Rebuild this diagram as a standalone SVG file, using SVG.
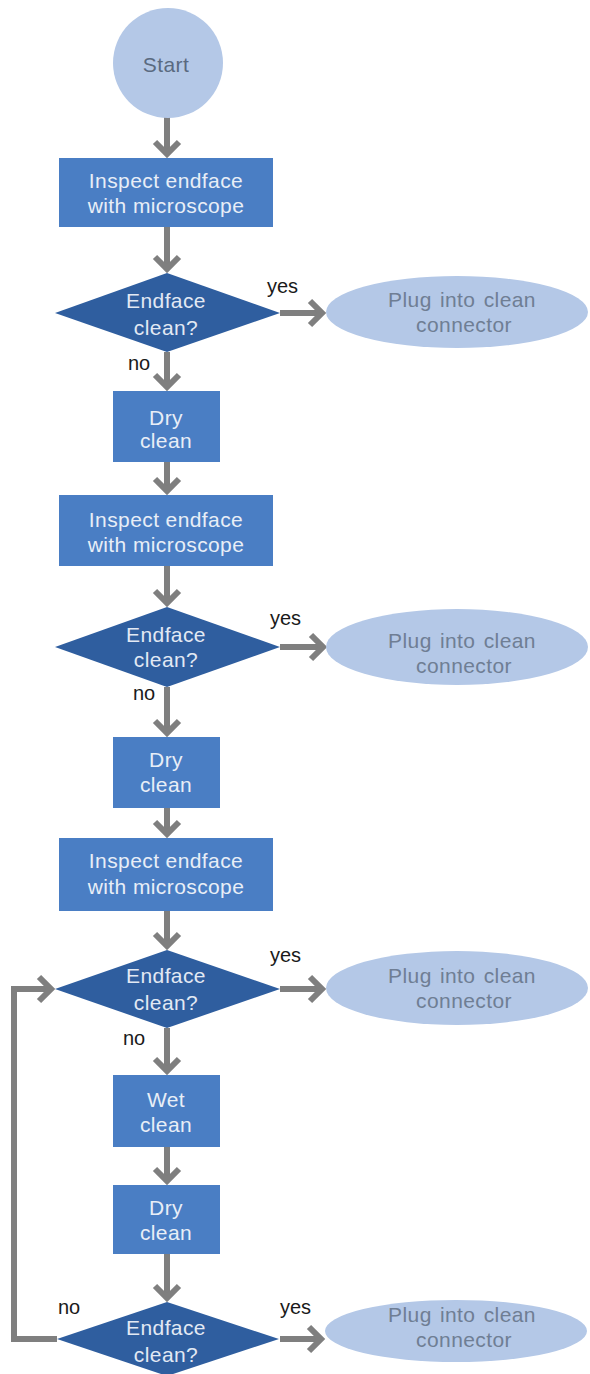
<svg xmlns="http://www.w3.org/2000/svg" width="590" height="1374" viewBox="0 0 590 1374">
  <style>
    text { font-family: "Liberation Sans", Arial, sans-serif; font-size: 21px; text-anchor: middle; letter-spacing: 0.4px; }
    .box { fill: #4a7ec4; }
    .box-t { fill: #e8eef7; }
    .dec { fill: #2f5e9f; }
    .dec-t { fill: #e2e9f4; }
    .term { fill: #b4c8e7; }
    .term-t { fill: #5a6a80; }
    .end-t { fill: #6f7e94; word-spacing: 2px; }
    .lbl { fill: #1a1a1a; font-size: 20px; text-anchor: start; letter-spacing: 0; }
    .conn { stroke: #7f7f7f; stroke-width: 6; fill: none; marker-end: url(#chev); stroke-linejoin: miter; }
  </style>
  <defs>
    <marker id="chev" markerUnits="userSpaceOnUse" markerWidth="34" markerHeight="34" viewBox="0 0 34 34" refX="22" refY="17" orient="auto" overflow="visible">
      <path d="M12,5 L24,17 L12,29" fill="none" stroke="#7f7f7f" stroke-width="6"/>
    </marker>
  </defs>

  <rect width="590" height="1374" fill="#ffffff"/>

  <!-- connectors -->
  <g id="connectors">
    <line class="conn" x1="167" y1="117" x2="167" y2="152"/>
    <line class="conn" x1="167" y1="227" x2="167" y2="267"/>
    <line class="conn" x1="280" y1="313" x2="320" y2="313"/>
    <line class="conn" x1="167" y1="352" x2="167" y2="385"/>
    <line class="conn" x1="167" y1="462" x2="167" y2="489"/>
    <line class="conn" x1="167" y1="566" x2="167" y2="601"/>
    <line class="conn" x1="280" y1="647" x2="321" y2="647"/>
    <line class="conn" x1="167" y1="687" x2="167" y2="731"/>
    <line class="conn" x1="167" y1="808" x2="167" y2="832"/>
    <line class="conn" x1="167" y1="911" x2="167" y2="944"/>
    <line class="conn" x1="280" y1="989" x2="320" y2="989"/>
    <line class="conn" x1="167" y1="1028" x2="167" y2="1069"/>
    <line class="conn" x1="167" y1="1147" x2="167" y2="1179"/>
    <line class="conn" x1="167" y1="1254" x2="167" y2="1296"/>
    <line class="conn" x1="280" y1="1339" x2="319" y2="1339"/>
    <path class="conn" d="M57,1339 H14 V989 H49"/>
  </g>

  <!-- edge labels -->
  <g id="labels">
    <text class="lbl" x="267" y="293">yes</text>
    <text class="lbl" x="128" y="370">no</text>
    <text class="lbl" x="270" y="625">yes</text>
    <text class="lbl" x="133" y="700">no</text>
    <text class="lbl" x="270" y="962">yes</text>
    <text class="lbl" x="123" y="1045">no</text>
    <text class="lbl" x="58" y="1314">no</text>
    <text class="lbl" x="280" y="1314">yes</text>
  </g>

  <g id="start">
    <circle class="term" cx="168" cy="63" r="55"/>
    <text class="term-t" x="166" y="72">Start</text>
  </g>

  <g id="inspect1">
    <rect class="box" x="59" y="158" width="214" height="69"/>
    <text class="box-t" x="166" y="188">Inspect endface</text>
    <text class="box-t" x="166" y="213">with microscope</text>
  </g>

  <g id="decision1">
    <polygon class="dec" points="55,313 167,273 280,313 167,352"/>
    <text class="dec-t" x="166" y="308">Endface</text>
    <text class="dec-t" x="166" y="335">clean?</text>
  </g>

  <g id="plug1">
    <ellipse class="term" cx="457" cy="312" rx="131" ry="36"/>
    <text class="end-t" x="462" y="307">Plug into clean</text>
    <text class="end-t" x="464" y="332">connector</text>
  </g>

  <g id="dry1">
    <rect class="box" x="113" y="391" width="107" height="71"/>
    <text class="box-t" x="166" y="425">Dry</text>
    <text class="box-t" x="166" y="448">clean</text>
  </g>

  <g id="inspect2">
    <rect class="box" x="59" y="495" width="214" height="71"/>
    <text class="box-t" x="166" y="527">Inspect endface</text>
    <text class="box-t" x="166" y="552">with microscope</text>
  </g>

  <g id="decision2">
    <polygon class="dec" points="55,647 167,607 280,647 167,687"/>
    <text class="dec-t" x="166" y="642">Endface</text>
    <text class="dec-t" x="166" y="667">clean?</text>
  </g>

  <g id="plug2">
    <ellipse class="term" cx="457" cy="647" rx="131" ry="38"/>
    <text class="end-t" x="462" y="648">Plug into clean</text>
    <text class="end-t" x="464" y="673">connector</text>
  </g>

  <g id="dry2">
    <rect class="box" x="113" y="737" width="107" height="71"/>
    <text class="box-t" x="166" y="767">Dry</text>
    <text class="box-t" x="166" y="792">clean</text>
  </g>

  <g id="inspect3">
    <rect class="box" x="59" y="838" width="214" height="73"/>
    <text class="box-t" x="166" y="868">Inspect endface</text>
    <text class="box-t" x="166" y="894">with microscope</text>
  </g>

  <g id="decision3">
    <polygon class="dec" points="55,989 167,950 280,989 167,1028"/>
    <text class="dec-t" x="166" y="983">Endface</text>
    <text class="dec-t" x="166" y="1010">clean?</text>
  </g>

  <g id="plug3">
    <ellipse class="term" cx="457" cy="988" rx="131" ry="37"/>
    <text class="end-t" x="462" y="983">Plug into clean</text>
    <text class="end-t" x="464" y="1008">connector</text>
  </g>

  <g id="wet">
    <rect class="box" x="113" y="1075" width="107" height="72"/>
    <text class="box-t" x="166" y="1107">Wet</text>
    <text class="box-t" x="166" y="1132">clean</text>
  </g>

  <g id="dry3">
    <rect class="box" x="113" y="1185" width="107" height="69"/>
    <text class="box-t" x="166" y="1215">Dry</text>
    <text class="box-t" x="166" y="1240">clean</text>
  </g>

  <g id="decision4">
    <polygon class="dec" points="57,1339 167,1302 279,1339 167,1376"/>
    <text class="dec-t" x="166" y="1335">Endface</text>
    <text class="dec-t" x="166" y="1362">clean?</text>
  </g>

  <g id="plug4">
    <ellipse class="term" cx="456" cy="1331" rx="131" ry="31"/>
    <text class="end-t" x="462" y="1322">Plug into clean</text>
    <text class="end-t" x="464" y="1347">connector</text>
  </g>
</svg>
